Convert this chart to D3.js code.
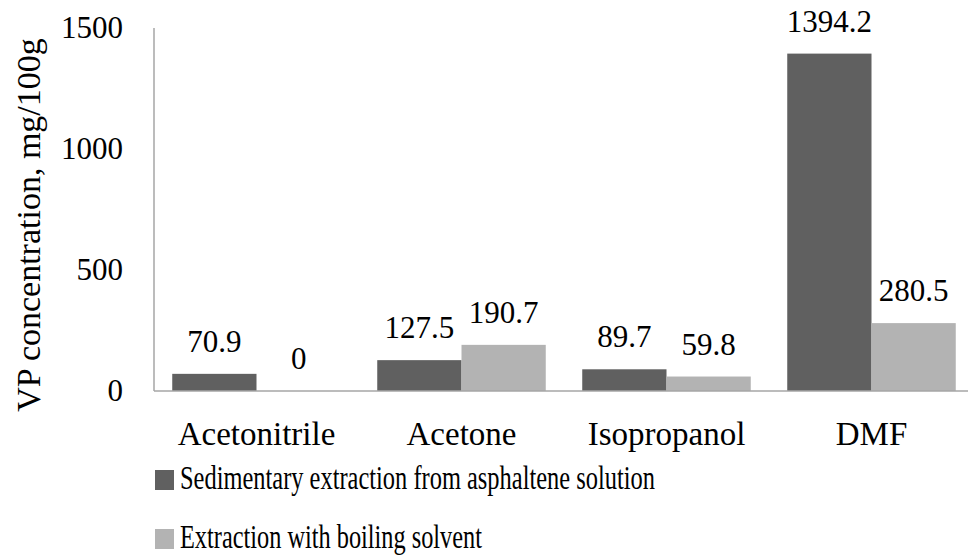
<!DOCTYPE html>
<html>
<head>
<meta charset="utf-8">
<script src="https://cdn.jsdelivr.net/npm/d3@7"></script>
<style>
  html, body { margin: 0; padding: 0; background: #fff; }
  svg { display: block; }
  text { font-family: "Liberation Serif", "Times New Roman", serif; fill: #000; }
</style>
</head>
<body>
<svg id="chart" width="968" height="556"></svg>
<script>
const categories = ["Acetonitrile", "Acetone", "Isopropanol", "DMF"];
const seriesNames = ["Sedimentary extraction from asphaltene solution", "Extraction with boiling solvent"];
const sedimentary = [70.9, 127.5, 89.7, 1394.2];
const boiling = [0, 190.7, 59.8, 280.5];
const yTicks = [0, 500, 1000, 1500];
const colors = ["#606060", "#b3b3b3"];

const FONT = '"Liberation Serif", "Times New Roman", serif';
const svg = d3.select("#chart");
const series = [sedimentary, boiling];

const y = d3.scaleLinear().domain([0, 1500]).range([391, 28]);
const x0 = d3.scaleBand().domain(categories).range([154, 974]).paddingInner(0.178).paddingOuter(0.089);
const x1 = d3.scaleBand().domain([0, 1]).range([0, x0.bandwidth()]);

// y axis line
svg.append("line").attr("x1", 154).attr("x2", 154).attr("y1", y(1500)).attr("y2", y(0))
  .attr("stroke", "#a6a6a6").attr("stroke-width", 1.5);

// y tick labels
const yAxis = d3.axisLeft(y).tickValues(yTicks).tickSize(0).tickPadding(31).tickFormat(d3.format("d"));
const ya = svg.append("g").attr("transform", "translate(154,0)").call(yAxis);
ya.attr("font-family", null).attr("font-size", null);
ya.select(".domain").remove();
ya.selectAll("text").style("font-family", FONT).style("font-size", "31px").attr("fill", "#000");

// bars + value labels
categories.forEach((c, i) => {
  series.forEach((s, j) => {
    const v = s[i];
    const bx = x0(c) + x1(j);
    svg.append("rect")
      .attr("x", bx).attr("y", y(v))
      .attr("width", x1.bandwidth()).attr("height", y(0) - y(v))
      .attr("fill", colors[j]);
    svg.append("text")
      .attr("x", bx + x1.bandwidth() / 2)
      .attr("y", y(v) - 22)
      .attr("text-anchor", "middle")
      .style("font-family", FONT)
      .style("font-size", "31px")
      .text(String(v));
  });
});

// baseline
svg.append("line").attr("x1", 154).attr("x2", 968).attr("y1", y(0)).attr("y2", y(0))
  .attr("stroke", "#a6a6a6").attr("stroke-width", 1.5);

// category labels
const xAxis = d3.axisBottom(x0).tickSize(0).tickPadding(0);
const xa = svg.append("g").call(xAxis);
xa.attr("font-family", null).attr("font-size", null);
xa.select(".domain").remove();
xa.selectAll("text").attr("y", 445).attr("dy", null)
  .style("font-family", FONT).style("font-size", "33px").attr("fill", "#000");

// y axis title
svg.append("text")
  .attr("transform", "translate(40,225) rotate(-90)")
  .attr("text-anchor", "middle")
  .style("font-family", FONT)
  .style("font-size", "34px")
  .text("VP concentration, mg/100g");

// legend
const legendY = [470, 529];
const legendW = [475, 302];
seriesNames.forEach((n, j) => {
  svg.append("rect").attr("x", 155).attr("y", legendY[j]).attr("width", 19).attr("height", 20).attr("fill", colors[j]);
  svg.append("text").attr("x", 180).attr("y", legendY[j] + 19)
    .style("font-family", FONT)
    .style("font-size", "33px")
    .attr("textLength", legendW[j]).attr("lengthAdjust", "spacingAndGlyphs")
    .text(n);
});
</script>
</body>
</html>
